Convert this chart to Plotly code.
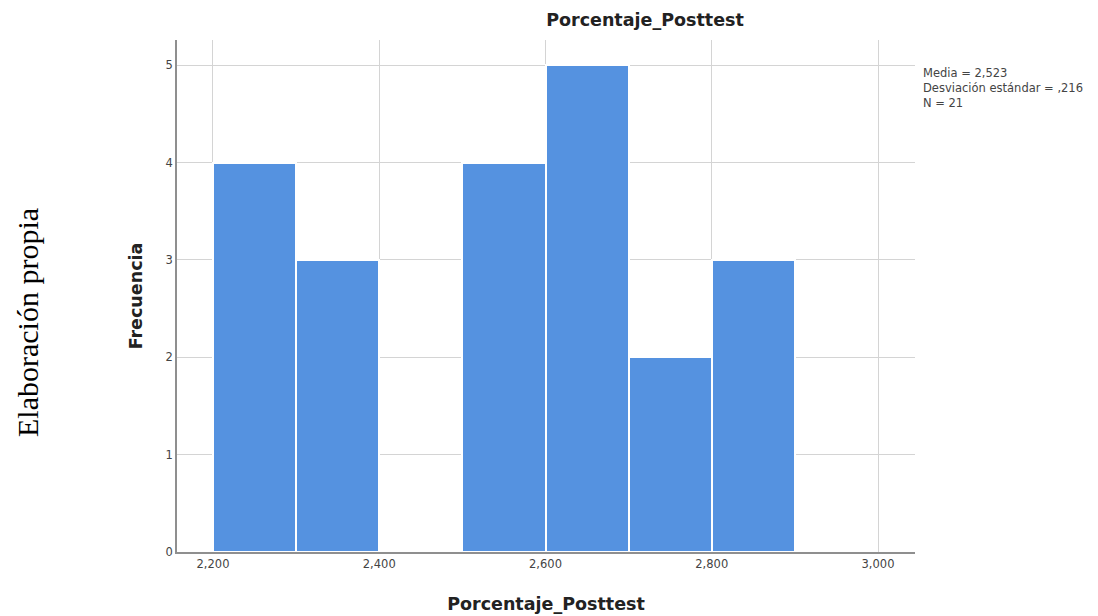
import plotly.graph_objects as go

# Data
bin_edges = [2200, 2300, 2400, 2500, 2600, 2700, 2800, 2900]
counts = [4, 3, 0, 4, 5, 2, 3]
x_ticks = [2200, 2400, 2600, 2800, 3000]
x_tick_labels = ["2,200", "2,400", "2,600", "2,800", "3,000"]
y_ticks = [0, 1, 2, 3, 4, 5]
stats_lines = ["Media = 2,523", "Desviación estándar = ,216", "N = 21"]

centers = [(a + b) / 2 for a, b in zip(bin_edges[:-1], bin_edges[1:])]
widths = [b - a for a, b in zip(bin_edges[:-1], bin_edges[1:])]

fig = go.Figure()
fig.add_trace(go.Bar(
    x=centers, y=counts, width=widths,
    marker=dict(color="#5592e0", line=dict(color="#ffffff", width=2)),
    showlegend=False, hoverinfo="x+y",
))

sans = "DejaVu Sans, Arial, sans-serif"

# page body has an 8px margin: plot area target 177..915 x 40..552 (screen)
fig.update_layout(
    width=1098, height=616,
    paper_bgcolor="white", plot_bgcolor="white",
    margin=dict(l=169, r=191, t=32, b=72),
    bargap=0,
    font=dict(family=sans, color="#333333"),
    title=dict(text="<b>Porcentaje_Posttest</b>", x=637/1098, xanchor="center",
               y=1 - 12/616, yanchor="middle",
               font=dict(size=17.5, color="#222222", family=sans)),
    xaxis=dict(
        range=[2156.7, 3044.5], tickvals=x_ticks, ticktext=x_tick_labels,
        showgrid=True, gridcolor="#d4d4d4", gridwidth=1,
        showline=True, linecolor="#8f8f8f", linewidth=1.5,
        ticks="", tickfont=dict(size=11.5, color="#444444"),
        zeroline=False,
        title=dict(text="<b>Porcentaje_Posttest</b>", standoff=28,
                   font=dict(size=17.5, color="#222222")),
    ),
    yaxis=dict(
        range=[0, 5.26], tickvals=y_ticks,
        showgrid=True, gridcolor="#d4d4d4", gridwidth=1,
        showline=True, linecolor="#8f8f8f", linewidth=1.5,
        ticks="", tickfont=dict(size=11.5, color="#444444"),
        zeroline=False,
        title=dict(text="<b>Frecuencia</b>", standoff=18,
                   font=dict(size=17.5, color="#222222")),
    ),
)

fig.add_annotation(
    text="<br>".join(stats_lines), xref="paper", yref="paper",
    x=(921 - 177) / 738, y=(552 - 64) / 512, xanchor="left", yanchor="top",
    align="left", showarrow=False, font=dict(size=11.5, color="#444444", family=sans),
)

fig.add_annotation(
    text="Elaboración propia", xref="paper", yref="paper",
    x=(27 - 177) / 738, y=(552 - 323) / 512, xanchor="center", yanchor="middle",
    textangle=-90, showarrow=False, borderpad=0,
    font=dict(size=30, color="#000000", family="Liberation Serif, Times New Roman, serif"),
)

fig.write_html("out.html")
